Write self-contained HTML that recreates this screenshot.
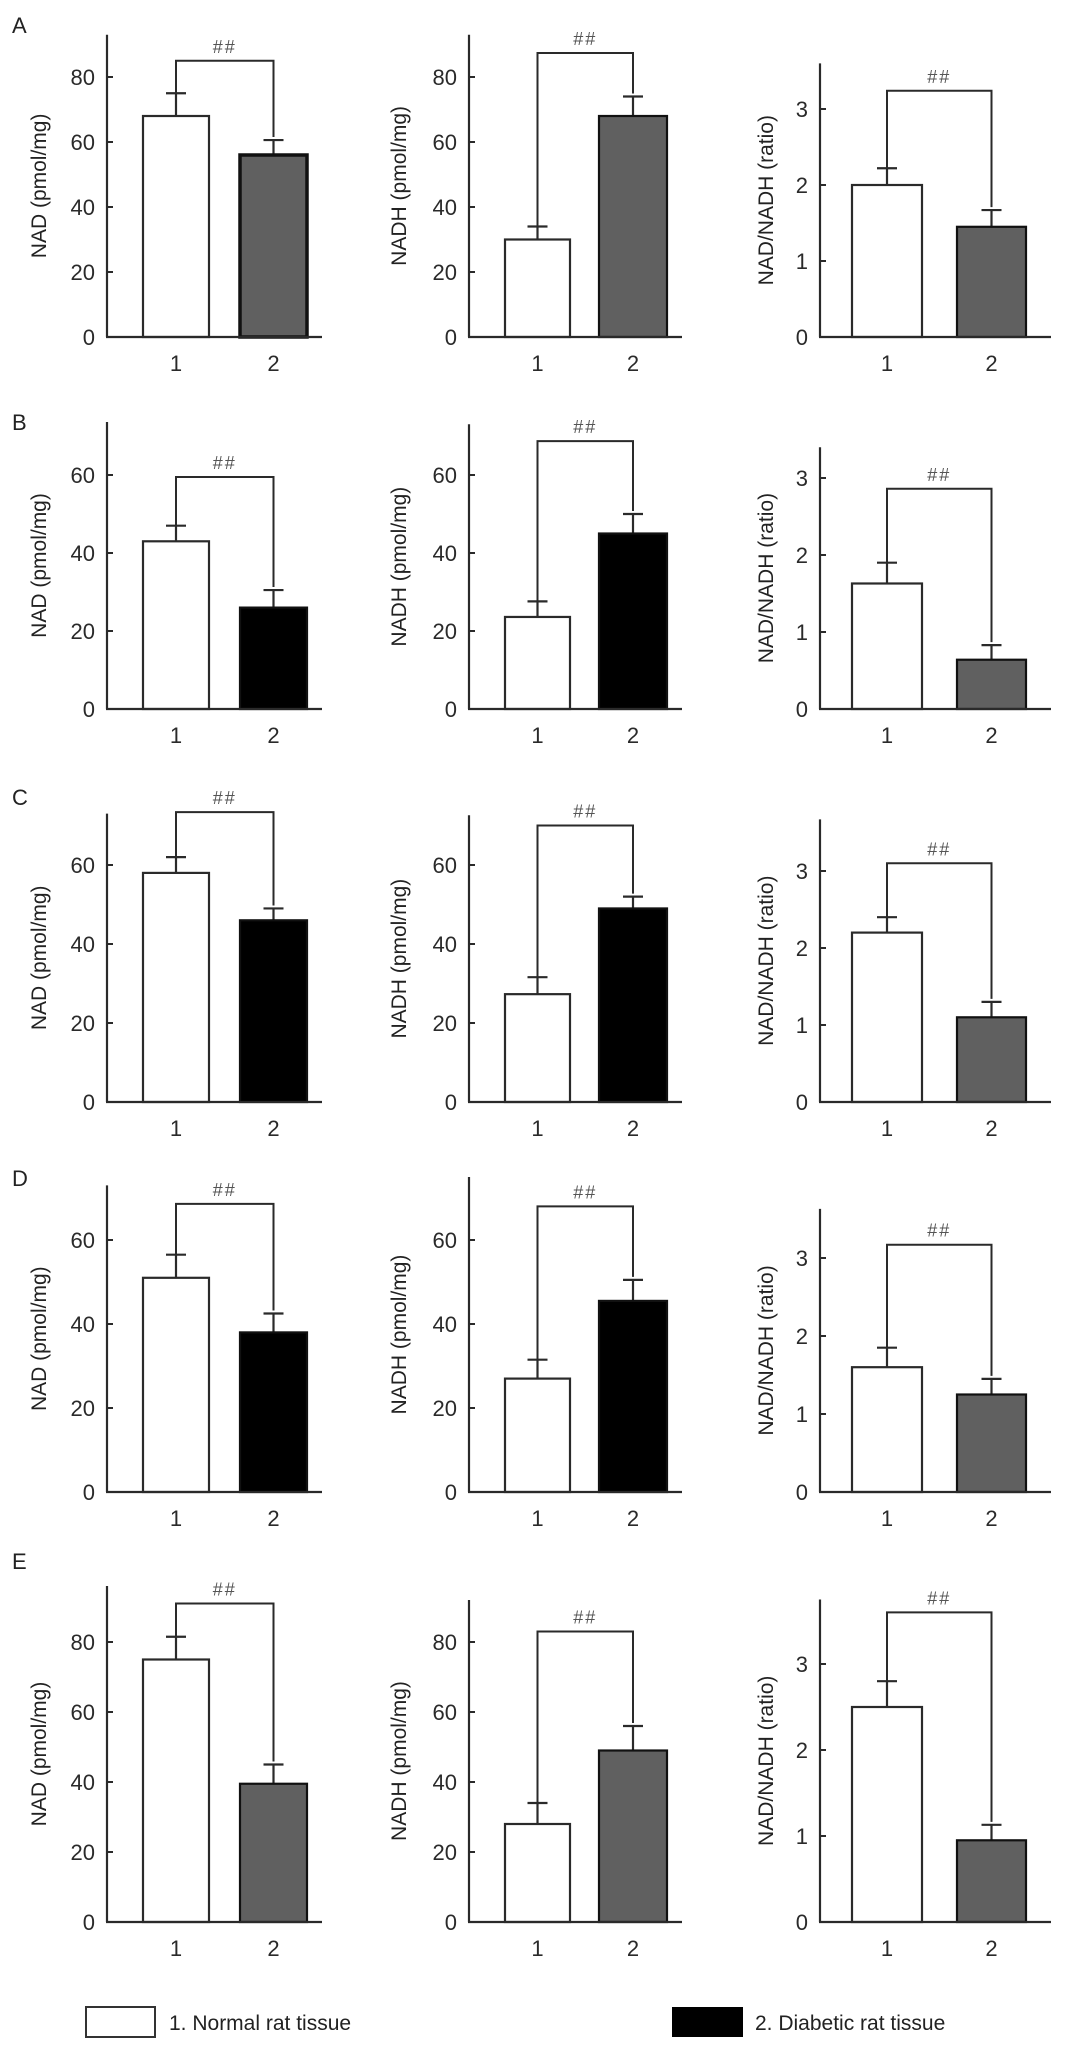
<!DOCTYPE html>
<html><head><meta charset="utf-8"><style>
html,body{margin:0;padding:0;background:#fff;}
svg{display:block;font-family:"Liberation Sans",Arial,sans-serif;}
</style></head><body>
<svg id="fig" width="1066" height="2050" viewBox="0 0 1066 2050" xmlns="http://www.w3.org/2000/svg">
<g>
<rect x="86" y="2007" width="69" height="30" fill="#fff" stroke="#333" stroke-width="2"/>
<text x="169" y="2030" font-size="21" fill="#222">1. Normal rat tissue</text>
<rect x="672" y="2007" width="71" height="30" fill="#000"/>
<text x="755" y="2030" font-size="21" fill="#222">2. Diabetic rat tissue</text>
</g>
</svg>
<script>
const rowLabels = ["A","B","C","D","E"];
const yTitles = ["NAD (pmol/mg)","NADH (pmol/mg)","NAD/NADH (ratio)"];
const categories = ["1","2"];
const normalValues = [68,30,2.0, 43,23.6,1.63, 58,27.3,2.2, 51,27,1.6, 75,28,2.5];
const normalErrors = [7,4,0.22, 4,4,0.27, 4,4.3,0.2, 5.5,4.5,0.25, 6.5,6,0.3];
const diabeticValues = [56,68,1.45, 26,45,0.64, 46,49,1.1, 38,45.5,1.25, 39.5,49,0.95];
const diabeticErrors = [4.6,6,0.22, 4.5,5,0.19, 3,3,0.2, 4.5,5,0.2, 5.5,7,0.18];
const bracketValues = [85,87.4,3.24, 59.5,68.7,2.86, 73.4,70,3.1, 68.6,68,3.17, 91,83,3.6];
const axisMaxValues = [93,93,3.6, 73.6,73,3.4, 73,72.6,3.67, 73,75,3.63, 96,92,3.75];
const countTicksA = [0,20,40,60,80];
const countTicksBCD = [0,20,40,60];
const countTicksE = [0,20,40,60,80];
const ratioTicks = [0,1,2,3];
const diabeticShade = ["grey","grey","grey","black","black","grey","black","black","grey","black","black","grey","grey","grey","grey"];

// layout (pixels)
const rowBaseline = [337,709,1102,1492,1922];
const rowLetterY = [33,430,805,1186,1569];
const countScale = [3.25,3.9,3.95,4.2,3.5];
const ratioScale = [76,77,77,78,86];
const colGeom = [
  {axis:107,b1:[143,209],b2:[240,307],end:322,title:38},
  {axis:469,b1:[505,570],b2:[599,667],end:682,title:398},
  {axis:820,b1:[852,922],b2:[957,1026],end:1051,title:765}
];
const NS="http://www.w3.org/2000/svg";
const svg=document.getElementById('fig');
function mk(tag,attrs,parent){const e=document.createElementNS(NS,tag);for(const k in attrs)e.setAttribute(k,attrs[k]);(parent||svg).appendChild(e);return e;}

rowLabels.forEach((lab,r)=>{
  const t=mk('text',{x:12,y:rowLetterY[r],'font-size':22,fill:'#222'});
  
  
  t.textContent=lab;
  for(let c=0;c<3;c++){
    const i=r*3+c;
    const g=colGeom[c];
    const base=rowBaseline[r];
    const ppu=c===2?ratioScale[r]:countScale[r];
    const y=v=>base-v*ppu;
    const ticks=c===2?ratioTicks:(r===0?countTicksA:(r===4?countTicksE:countTicksBCD));
    const grp=mk('g',{});
    
    
    const ya=mk('line',{x1:g.axis,y1:y(axisMaxValues[i]),x2:g.axis,y2:base,stroke:'#2a2a2a','stroke-width':2.2},grp);
    
    
    ticks.forEach(tv=>{
      const tk=mk('line',{x1:g.axis,y1:y(tv),x2:g.axis+6,y2:y(tv),stroke:'#2a2a2a','stroke-width':2},grp);
      
      
      const tl=mk('text',{x:g.axis-12,y:y(tv)+8,'font-size':22,'text-anchor':'end',fill:'#2a2a2a'},grp);
      
      
      tl.textContent=String(tv);
    });
    const midY=(y(axisMaxValues[i])+base)/2;
    const yt=mk('text',{x:g.title,y:midY,'font-size':21,'text-anchor':'middle',fill:'#222',transform:`rotate(-90 ${g.title} ${midY}) translate(0 8)`},grp);
    
    
    yt.textContent=yTitles[c];
    const vals=[normalValues[i],diabeticValues[i]];
    const errs=[normalErrors[i],diabeticErrors[i]];
    const xs=[g.b1,g.b2];
    const fills=['#fff',diabeticShade[i]==='black'?'#000':'#606060'];
    for(let b=0;b<2;b++){
      const cx=(xs[b][0]+xs[b][1])/2;
      const el=mk('line',{x1:cx,y1:y(vals[b]),x2:cx,y2:y(vals[b]+errs[b]),stroke:'#2a2a2a','stroke-width':2.2},grp);
      
      
      const cap=mk('line',{x1:cx-10,y1:y(vals[b]+errs[b]),x2:cx+10,y2:y(vals[b]+errs[b]),stroke:'#2a2a2a','stroke-width':2.2},grp);
      
      
      const sw=(i===0&&b===1)?3.5:2.2;
      const rect=mk('rect',{x:xs[b][0],y:y(vals[b]),width:xs[b][1]-xs[b][0],height:base-y(vals[b]),fill:fills[b],stroke:b===0?'#2a2a2a':'#111','stroke-width':sw},grp);
      
      
      const xl=mk('text',{x:cx,y:base+34,'font-size':22,'text-anchor':'middle',fill:'#2a2a2a'},grp);
      
      
      xl.textContent=categories[b];
    }
    const xa=mk('line',{x1:g.axis-1,y1:base,x2:g.end,y2:base,stroke:'#2a2a2a','stroke-width':2.2},grp);
    
    
    const c1=(g.b1[0]+g.b1[1])/2, c2=(g.b2[0]+g.b2[1])/2;
    const by=y(bracketValues[i]);
    const br=mk('polyline',{points:`${c1},${y(vals[0]+errs[0])} ${c1},${by} ${c2},${by} ${c2},${y(vals[1]+errs[1])-3}`,fill:'none',stroke:'#2a2a2a','stroke-width':2},grp);
    
    
    const sg=mk('text',{x:(c1+c2)/2,y:by-8,'font-size':18,'text-anchor':'middle',fill:'#555','letter-spacing':'2'},grp);
    
    
    sg.textContent='##';
  }
});
</script>
</body></html>
